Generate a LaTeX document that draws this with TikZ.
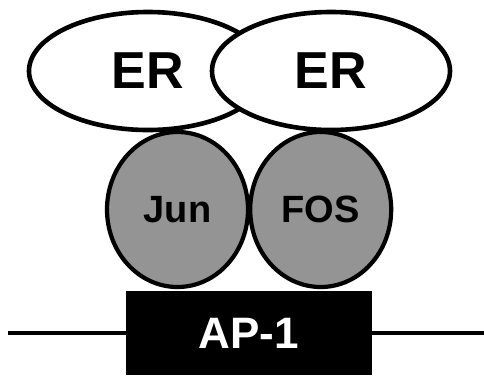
\documentclass[tikz,border=0pt]{standalone}
\usepackage{fontspec}
\setmainfont{Liberation Sans}
\usetikzlibrary{
	positioning,
	shapes.geometric
}
\definecolor{protgray}{gray}{0.58}

\begin{document}
\begin{tikzpicture}[x=1bp,y=-1bp,
	er/.style={ellipse,draw,line width=4.6bp,fill=white,minimum width=238bp,minimum height=118bp,inner sep=0pt,font=\fontsize{52bp}{52bp}\selectfont\bfseries},
	prot/.style={ellipse,draw,line width=4.2bp,fill=protgray,minimum width=141bp,minimum height=155bp,inner sep=0pt,font=\fontsize{38bp}{38bp}\selectfont\bfseries},
	site/.style={rectangle,fill=black,text=white,minimum width=246bp,minimum height=84bp,inner sep=0pt,font=\fontsize{44bp}{44bp}\selectfont\bfseries}]
	\useasboundingbox (0,0) rectangle (484,375);

	\node[site] (ap1) at (249,333) {AP-1};
	\coordinate (dna_l) at (8,333);
	\coordinate (dna_r) at (484,333);

	\draw[line width=4.5bp] (dna_l) -- (ap1);
	\draw[line width=4.5bp] (ap1) -- (dna_r);

	\node[prot] (jun) at (177.5,209.5) {Jun};
	\node[prot,right = -2bp of jun] (fos) {FOS};

	\node[er] (er_l) at (148,71) {ER};
	\node[er] (er_r) at (331,71) {ER};
\end{tikzpicture}
\end{document}
